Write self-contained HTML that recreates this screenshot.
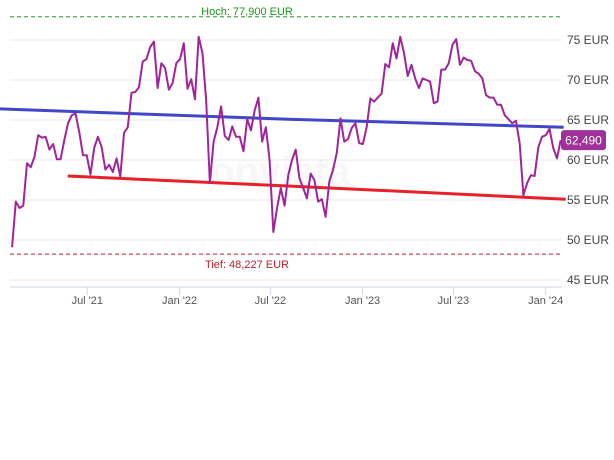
<!DOCTYPE html>
<html><head><meta charset="utf-8"><style>
html,body{margin:0;padding:0;background:#fff;}
svg{display:block;font-family:"Liberation Sans",sans-serif;}
</style></head><body>
<svg id="chart" width="614" height="460" viewBox="0 0 614 460" xmlns="http://www.w3.org/2000/svg"></svg>
<script>
// ---- data ----
const yTicks = [45,50,55,60,65,70,75];
const xTickDays = [181,365,546,730,911,1095];
const xTickLabels = ["Jul '21","Jan '22","Jul '22","Jan '23","Jul '23","Jan '24"];
const startDay = 31, endDay = 1125;
const prices = [49.1,54.8,54,54.3,59.6,59.1,60.4,63.1,62.8,62.9,61.3,62,60.1,60.1,62.5,64.6,65.6,65.8,63.5,60.6,60.6,58.2,61.5,62.9,61.6,58.8,59.4,58.5,60.2,57.9,63.4,64.1,68.4,68.5,69.1,72.3,72.6,74.1,74.8,69,72.1,71.5,68.8,69.6,72.1,72.6,74.6,68.9,70.1,67.6,75.4,73.4,67.5,57.1,62.3,64.1,66.7,63,62.5,64.2,62.9,62.9,61.1,65.1,63.7,66.2,67.8,62.3,64.1,60,51,54,56.5,54.3,58.1,60,61.3,57.7,56.5,55.2,58.3,57.5,54.8,55.1,52.9,57.3,58.8,60.9,65.2,62.3,62.6,64,64.6,62.1,62,64.1,67.7,67.3,67.8,68.3,72,71.6,74.6,72.7,75.4,73.4,70.5,71.9,70.2,69,70.2,70,69.8,67.1,67.3,71.3,71.3,72.1,74.4,75.1,71.9,72.8,72.5,72.4,71.1,70.8,70.2,68.1,67.8,67.8,66.9,66.9,65.6,65.1,64.6,64.9,62.1,55.6,57.1,58.1,58,61.6,62.9,63.1,63.9,61.5,60.2,62.49];
const maBlueDays = [0,581,1131];
const maBlueVals = [66.4,65.1,64.1];
const maRedDays = [142,581,1135];
const maRedVals = [58.0,56.75,55.1];
const high = 77.9, low = 48.227;
const lastLabel = "62,490";

// ---- scales ----
const X = d => 87.3 + (d-181)*0.5015;
const Y = v => 40 + (75-v)*8;
const NS="http://www.w3.org/2000/svg";
const svg=document.getElementById('chart');
function mk(tag,attrs,parent){const e=document.createElementNS(NS,tag);for(const k in attrs)e.setAttribute(k,attrs[k]);(parent||svg).appendChild(e);return e;}

// watermark
let wm=mk('text',{x:280,y:185,'font-size':40,'font-weight':'bold',fill:'#f7f7f7','text-anchor':'middle'});


wm.textContent='onvista';

// grid + y labels
yTicks.forEach(v=>{
  const g=mk('line',{x1:10,x2:562,y1:Y(v),y2:Y(v),stroke:'#e8e8e8','stroke-width':1});
  
  
  const t=mk('text',{x:567,y:Y(v)+4,'font-size':12,fill:'#444'});
  
  
  t.textContent=v+' EUR';
});
// x axis
const ax=mk('line',{x1:10,x2:562,y1:287,y2:287,stroke:'#ccd6eb','stroke-width':1});


xTickDays.forEach((d,i)=>{
  const tk=mk('line',{x1:X(d),x2:X(d),y1:287,y2:295,stroke:'#ccd6eb'});
  
  
  const t=mk('text',{x:X(d),y:304,'font-size':11,fill:'#555','text-anchor':'middle'});
  
  
  t.textContent=xTickLabels[i];
});
// high/low
const hl=mk('line',{x1:10,x2:562,y1:Y(high),y2:Y(high),stroke:'#2a9a2a','stroke-dasharray':'4,3'});


const ht=mk('text',{x:247,y:Y(high)-2,'font-size':11,fill:'#1a9a1a','text-anchor':'middle'});


ht.textContent='Hoch: 77,900 EUR';
const ll=mk('line',{x1:10,x2:562,y1:Y(low),y2:Y(low),stroke:'#c0202a','stroke-dasharray':'4,3'});


const lt=mk('text',{x:247,y:Y(low)+14,'font-size':11,fill:'#c0202a','text-anchor':'middle'});


lt.textContent='Tief: 48,227 EUR';

// moving averages
function poly(days,vals,color,name){
  const p=mk('polyline',{points:days.map((d,i)=>X(d)+','+Y(vals[i])).join(' '),fill:'none',stroke:color,'stroke-width':3});
  
  
}
poly(maBlueDays,maBlueVals,'#4048c8','moving-average-200');
poly(maRedDays,maRedVals,'#e8202a','moving-average-red');

// price line
const step=(endDay-startDay)/(prices.length-1);
const pl=mk('polyline',{points:prices.map((v,i)=>X(startDay+i*step)+','+Y(v)).join(' '),fill:'none',stroke:'#a0249a','stroke-width':2,'stroke-linejoin':'round'});



// last price label
const ly=Y(prices[prices.length-1]);
const r=mk('rect',{x:561,y:ly-10,width:45,height:20,rx:3,fill:'#a0309a'});


const rt=mk('text',{x:583.5,y:ly+4.5,'font-size':12,fill:'#fff','text-anchor':'middle'});


rt.textContent=lastLabel;
</script>
</body></html>
